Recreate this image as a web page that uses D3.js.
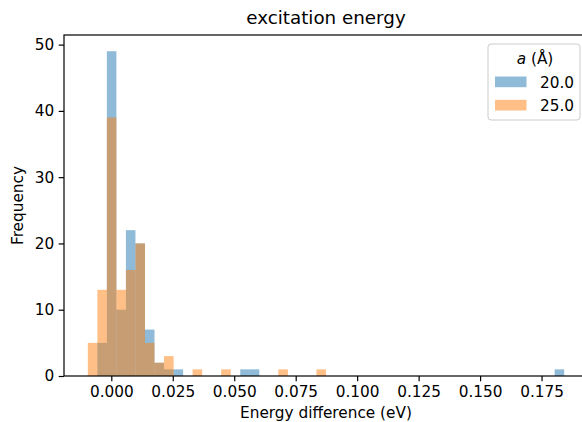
<!DOCTYPE html>
<html>
<head>
<meta charset="utf-8">
<script src="https://cdn.jsdelivr.net/npm/d3@7"></script>
<style>
  html, body { margin: 0; padding: 0; background: #fff; }
  svg { display: block; overflow: hidden; }
  text { font-family: "DejaVu Sans", sans-serif; fill: #000; }
</style>
</head>
<body>
<div id="chart"></div>
<script>
// histogram bins shared by both series
const binStart = -0.00955;
const binEnd = 0.1842;
const binCount = 50;

// counts per bin
const seriesLabels = ['20.0', '25.0'];
const counts20 = [0, 5, 49, 10, 22, 20, 7, 2, 1, 1, 0, 0, 0, 0, 0, 0, 1, 1, 0, 0,
                  0, 0, 0, 0, 0, 0, 0, 0, 0, 0, 0, 0, 0, 0, 0, 0, 0, 0, 0, 0,
                  0, 0, 0, 0, 0, 0, 0, 0, 0, 1];
const counts25 = [5, 13, 39, 13, 16, 20, 5, 2, 3, 0, 0, 1, 0, 0, 1, 0, 0, 0, 0, 0,
                  1, 0, 0, 0, 1, 0, 0, 0, 0, 0, 0, 0, 0, 0, 0, 0, 0, 0, 0, 0,
                  0, 0, 0, 0, 0, 0, 0, 0, 0, 0];
const seriesColors = ['#1f77b4', '#ff7f0e'];

const xTicks = [0, 0.025, 0.05, 0.075, 0.1, 0.125, 0.15, 0.175];
const yTicks = [0, 10, 20, 30, 40, 50];

const width = 582, height = 422;
const margin = { top: 35, right: -6, bottom: 46, left: 64 };
const plotRight = width - margin.right;
const plotBottom = height - margin.bottom;
const fontSize = '15.3px';

const svg = d3.select('#chart')
    .append('svg')
    .attr('width', width)
    .attr('height', height);

const binWidth = (binEnd - binStart) / binCount;
const span = binEnd - binStart;
const x = d3.scaleLinear()
    .domain([binStart - 0.05 * span, binEnd + 0.05 * span])
    .range([margin.left, plotRight]);

const yMax = d3.max([...counts20, ...counts25]) * 1.05;
const y = d3.scaleLinear()
    .domain([0, yMax])
    .range([plotBottom, margin.top]);

// bars
[counts20, counts25].forEach((counts, si) => {
    const bins = counts.map((c, i) => ({ x0: binStart + i * binWidth, x1: binStart + (i + 1) * binWidth, c }))
        .filter(d => d.c > 0);
    svg.append('g')
        .selectAll('rect')
        .data(bins)
        .enter()
        .append('rect')
        .attr('x', d => x(d.x0))
        .attr('width', d => x(d.x1) - x(d.x0))
        .attr('y', d => y(d.c))
        .attr('height', d => y(0) - y(d.c))
        .attr('fill', seriesColors[si])
        .attr('fill-opacity', 0.5);
});

// axes
const xAxis = d3.axisBottom(x)
    .tickValues(xTicks)
    .tickFormat(d3.format('.3f'))
    .tickSize(5.3)
    .tickPadding(4.5);
const yAxis = d3.axisLeft(y)
    .tickValues(yTicks)
    .tickSize(5.3)
    .tickPadding(4.5);

const gx = svg.append('g')
    .attr('transform', `translate(0,${plotBottom})`)
    .call(xAxis);
const gy = svg.append('g')
    .attr('transform', `translate(${margin.left},0)`)
    .call(yAxis);

[gx, gy].forEach(g => {
    g.select('.domain').remove();
    g.selectAll('.tick line').attr('stroke', '#000').attr('stroke-width', 1.2);
    g.selectAll('.tick text')
        .attr('fill', '#000')
        .style('font-family', '"DejaVu Sans", sans-serif')
        .style('font-size', fontSize);
});

// frame
svg.append('rect')
    .attr('x', margin.left)
    .attr('y', margin.top)
    .attr('width', plotRight - margin.left)
    .attr('height', plotBottom - margin.top)
    .attr('fill', 'none')
    .attr('stroke', '#000')
    .attr('stroke-width', 1.2);

// title and labels
const cx = (margin.left + plotRight) / 2;
svg.append('text')
    .attr('x', cx)
    .attr('y', 24)
    .attr('text-anchor', 'middle')
    .style('font-size', '18.3px')
    .text('excitation energy');

svg.append('text')
    .attr('x', cx)
    .attr('y', 418)
    .attr('text-anchor', 'middle')
    .style('font-size', fontSize)
    .text('Energy difference (eV)');

svg.append('text')
    .attr('transform', `translate(23,${(margin.top + plotBottom) / 2}) rotate(-90)`)
    .attr('text-anchor', 'middle')
    .style('font-size', fontSize)
    .text('Frequency');

// legend
const legend = svg.append('g').attr('transform', 'translate(488,44)');
legend.append('rect')
    .attr('width', 92)
    .attr('height', 76)
    .attr('rx', 3)
    .attr('fill', '#fff')
    .attr('fill-opacity', 0.8)
    .attr('stroke', '#cccccc')
    .attr('stroke-width', 1);

const legendTitle = legend.append('text')
    .attr('x', 47)
    .attr('y', 20)
    .attr('text-anchor', 'middle')
    .style('font-size', fontSize);
legendTitle.append('tspan').style('font-style', 'italic').text('a');
legendTitle.append('tspan').text(' (Å)');

const items = legend.selectAll('.item')
    .data(seriesLabels)
    .enter()
    .append('g')
    .attr('class', 'item')
    .attr('transform', (d, i) => `translate(0,${32.5 + i * 23.3})`);

items.append('rect')
    .attr('x', 7)
    .attr('width', 31.5)
    .attr('height', 10.7)
    .attr('fill', (d, i) => seriesColors[i])
    .attr('fill-opacity', 0.5);

items.append('text')
    .attr('x', 52)
    .attr('y', 11)
    .style('font-size', fontSize)
    .text(d => d);
</script>
</body>
</html>
